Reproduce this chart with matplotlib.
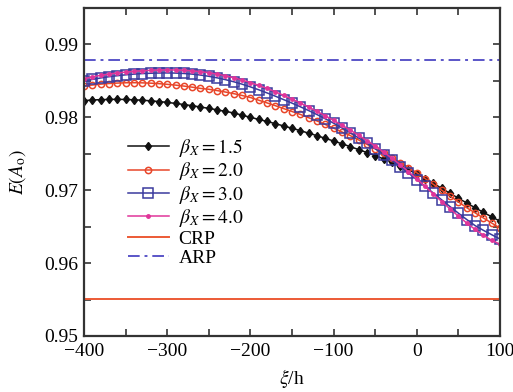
import matplotlib
matplotlib.use("Agg")
import matplotlib.pyplot as plt
from matplotlib.ticker import MultipleLocator, FuncFormatter

xi = list(range(-400, 101, 10))

beta_15 = [.98230, .98238, .98243, .98246, .98247, .98245, .98241, .98235, .98227, .98217,
           .98205, .98191, .98176, .98160, .98142, .98123, .98103, .98082, .98060, .98030,
           .98000, .97972, .97943, .97913, .97882, .97850, .97817, .97783, .97748, .97712,
           .97675, .97637, .97598, .97558, .97517, .97475, .97430, .97383, .97333, .97280,
           .97225, .97160, .97093, .97025, .96957, .96890, .96825, .96760, .96697, .96635, .96575]

beta_20 = [.98430, .98443, .98455, .98464, .98470, .98474, .98475, .98473, .98469, .98462,
           .98453, .98442, .98429, .98414, .98397, .98385, .98367, .98347, .98325, .98300,
           .98272, .98235, .98198, .98160, .98120, .98080, .98040, .97995, .97950, .97902,
           .97852, .97800, .97750, .97690, .97630, .97568, .97505, .97443, .97380, .97310,
           .97240, .97160, .97080, .97000, .96920, .96840, .96760, .96690, .96620, .96550, .96480]

beta_30 = [.98497, .98520, .98540, .98557, .98571, .98583, .98593, .98600, .98605, .98608,
           .98609, .98607, .98602, .98593, .98580, .98563, .98542, .98517, .98488, .98455,
           .98418, .98378, .98335, .98290, .98243, .98195, .98145, .98093, .98038, .97980,
           .97920, .97855, .97788, .97718, .97645, .97569, .97490, .97408, .97323, .97235,
           .97145, .97053, .96960, .96867, .96775, .96685, .96598, .96515, .96450, .96390, .96330]

beta_40 = [.98530, .98555, .98576, .98594, .98609, .98621, .98631, .98639, .98645, .98649,
           .98651, .98650, .98646, .98638, .98627, .98612, .98593, .98570, .98543, .98512,
           .98477, .98438, .98396, .98350, .98301, .98250, .98197, .98141, .98082, .98021,
           .97958, .97893, .97825, .97755, .97682, .97605, .97525, .97440, .97350, .97255,
           .97155, .97052, .96948, .96845, .96743, .96644, .96550, .96463, .96383, .96312, .96260]

crp_value = 0.9551
arp_value = 0.9879

labels = [r"$\beta_X = 1.5$", r"$\beta_X = 2.0$", r"$\beta_X = 3.0$", r"$\beta_X = 4.0$", "CRP", "ARP"]

plt.rcParams['font.family'] = ['Liberation Serif', 'DejaVu Serif']
plt.rcParams['mathtext.fontset'] = 'stix'

fig = plt.figure(figsize=(5.13, 3.92), dpi=100)
ax = fig.add_axes([84/513, 1-336/392, 416/513, 328/392])

c_black = '#111111'
c_red = '#e8462a'
c_blue = '#3a3a9e'
c_mag = '#e0359a'
c_crp = '#ec5a35'
c_arp = '#5a55c8'

ax.plot(xi, beta_15, color=c_black, lw=1.1, marker='d', ms=4.5, mfc=c_black, mec=c_black, label=labels[0])
ax.plot(xi, beta_20, color=c_red, lw=1.1, marker='o', ms=4.5, mfc='none', mec=c_red, mew=1.1, label=labels[1])
ax.plot(xi, beta_30, color=c_blue, lw=1.1, marker='s', ms=6.5, mfc='none', mec=c_blue, mew=1.1, label=labels[2])
ax.plot(xi, beta_40, color=c_mag, lw=1.1, marker='o', ms=2.5, mfc=c_mag, mec=c_mag, label=labels[3])
ax.axhline(crp_value, color=c_crp, lw=1.4, label=labels[4])
ax.axhline(arp_value, color=c_arp, lw=1.4, ls=(0, (6, 2.5, 1.5, 2.5)), label=labels[5])

ax.set_xlim(-400, 100)
ax.set_ylim(0.95, 0.995)
ax.xaxis.set_major_locator(MultipleLocator(100))
ax.xaxis.set_minor_locator(MultipleLocator(50))
ax.yaxis.set_major_locator(MultipleLocator(0.01))
ax.yaxis.set_minor_locator(MultipleLocator(0.005))
ax.yaxis.set_major_formatter(FuncFormatter(lambda v, p: f"{v:.2f}"))
ax.xaxis.set_major_formatter(FuncFormatter(lambda v, p: f"{int(round(v))}".replace('-', '\u2212')))

for which in ('major', 'minor'):
    ax.tick_params(axis='both', which=which, direction='in', top=True, right=True, length=5, width=1.2, color='#333333')
ax.tick_params(axis='both', which='major', labelsize=14)
ax.tick_params(axis='x', which='major', pad=5)
ax.tick_params(axis='y', which='major', pad=4)
for s in ax.spines.values():
    s.set_linewidth(1.6)
    s.set_color('#333333')

ax.set_xlabel(r"$\xi$/h", fontsize=14, labelpad=5)
ax.set_ylabel(r"$E(A_\mathrm{o})$", fontsize=14, labelpad=12)

leg = ax.legend(loc='upper left', bbox_to_anchor=((128-84)/416, (336-137)/328), frameon=False,
                fontsize=14, handlelength=2.1, handletextpad=0.5, labelspacing=0.07, borderpad=0, borderaxespad=0)

fig.savefig('out.png', dpi=100)
